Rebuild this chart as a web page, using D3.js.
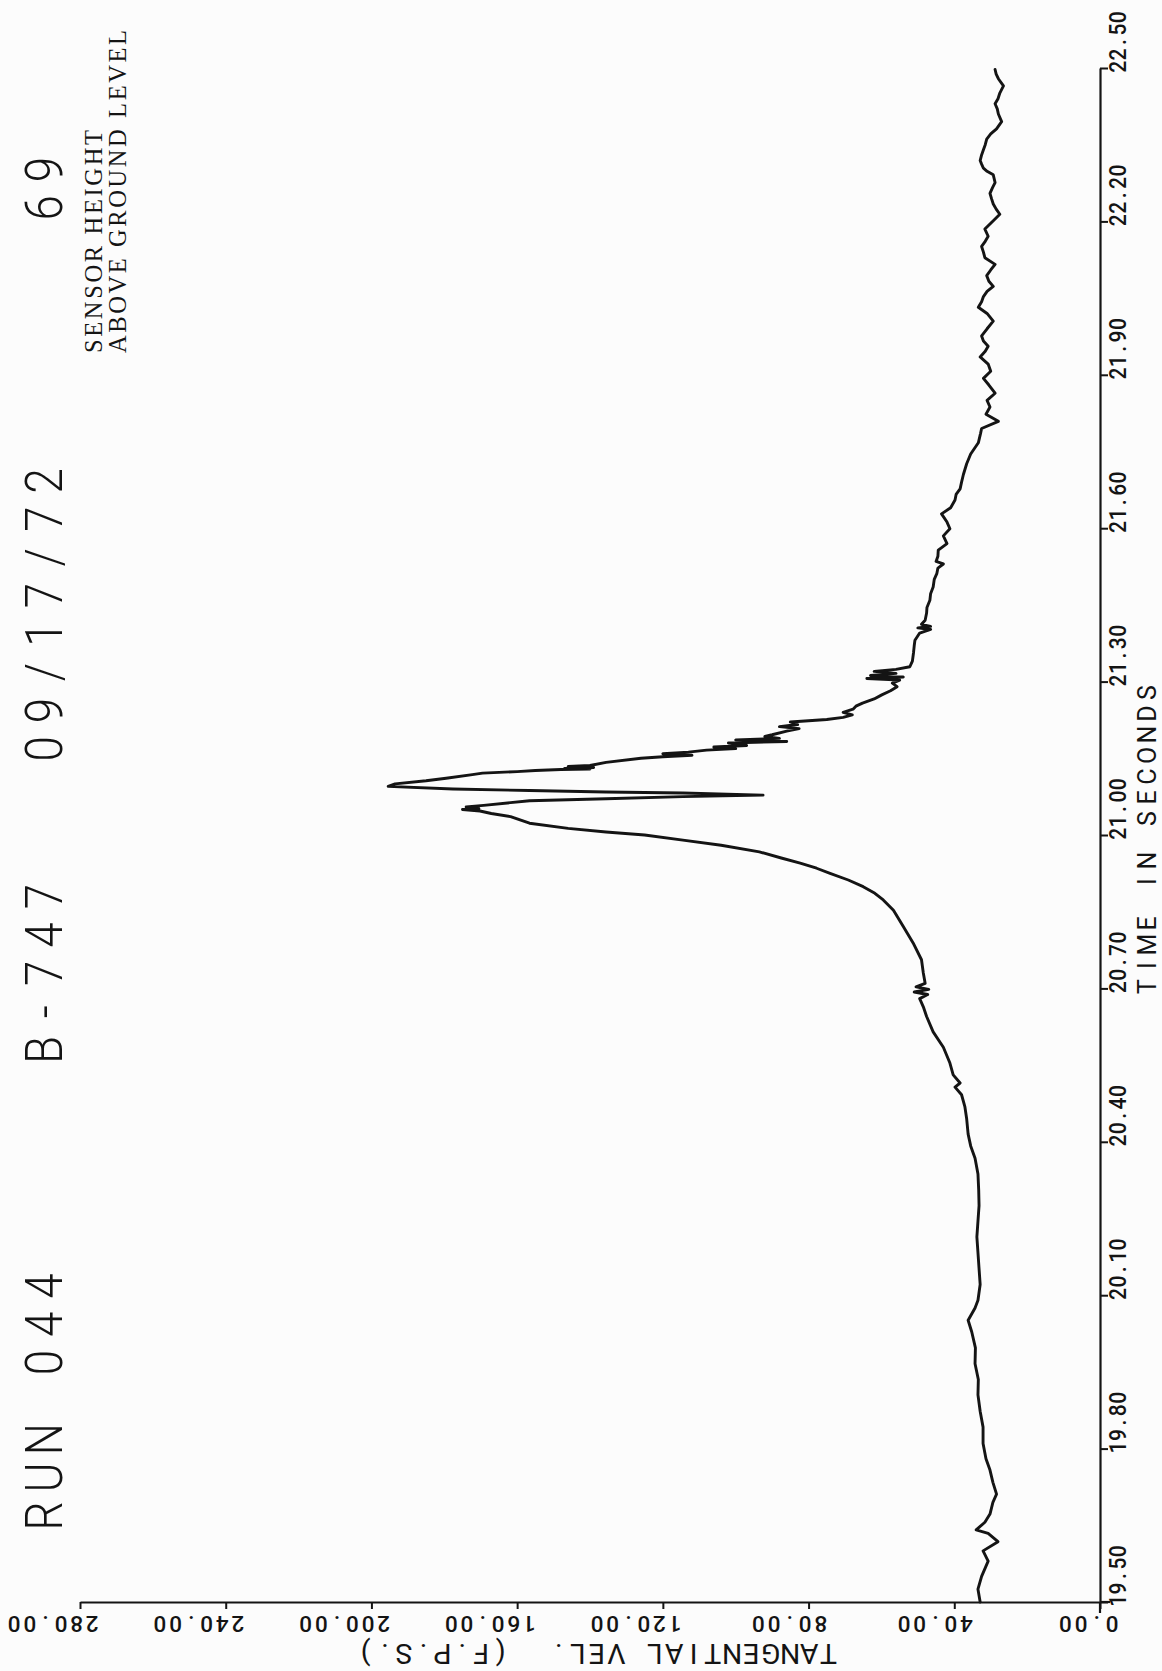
<!DOCTYPE html>
<html>
<head>
<meta charset="utf-8">
<title>RUN 044 B-747 09/17/72 - Tangential velocity, sensor 69</title>
<script src="https://cdn.jsdelivr.net/npm/d3@7"></script>
<style>
  html, body { margin: 0; padding: 0; background: #fcfcfc; }
  svg { display: block; }
</style>
</head>
<body>
<script>
// ---- data ---------------------------------------------------------------
// Time axis ticks (seconds) and their printed labels
const timeTicks = [19.5, 19.8, 20.1, 20.4, 20.7, 21.0, 21.3, 21.6, 21.9, 22.2, 22.5];
const timeTickLabels = ["19.50", "19.80", "20.10", "20.40", "20.70", "21.00", "21.30", "21.60", "21.90", "22.20", "22.50"];

// Velocity axis ticks (ft/s) and their printed labels
const velTicks = [0, 40, 80, 120, 160, 200, 240, 280];
const velTickLabels = ["0.00", "40.00", "80.00", "120.00", "160.00", "200.00", "240.00", "280.00"];

// Header block
const headerLabels = ["RUN 044", "B-747", "09/17/72", "69"];
const sensorLabels = ["SENSOR HEIGHT", "ABOVE GROUND LEVEL"];
const timeTitle = "TIME IN SECONDS";
const velTitle = "TANGENTIAL VEL.  (F.P.S.)";

// Recorded trace: [time (s), tangential velocity (ft/s)]
const velocityTrace = [
  [19.500, 32.9], [19.525, 33.5], [19.550, 32.5], [19.580, 30.7], [19.600, 32.1],
  [19.618, 28.0], [19.634, 30.7], [19.641, 34.0], [19.656, 31.6], [19.672, 30.2],
  [19.695, 29.4], [19.711, 28.4], [19.734, 29.4], [19.758, 30.2], [19.780, 31.3],
  [19.810, 32.1], [19.842, 32.1], [19.873, 32.9], [19.905, 33.5], [19.935, 33.4],
  [19.966, 34.3], [19.997, 34.2], [20.028, 35.2], [20.051, 36.2], [20.075, 34.3],
  [20.090, 33.5], [20.121, 32.9], [20.152, 33.2], [20.183, 33.5], [20.214, 33.8],
  [20.245, 33.5], [20.275, 33.2], [20.306, 33.3], [20.337, 33.5], [20.368, 34.3],
  [20.392, 35.5], [20.415, 36.2], [20.445, 36.6], [20.469, 37.1], [20.492, 38.0],
  [20.507, 39.8], [20.515, 38.4], [20.531, 40.3], [20.554, 41.2], [20.585, 43.0],
  [20.615, 45.8], [20.645, 47.6], [20.664, 48.5], [20.680, 49.5], [20.688, 47.3],
  [20.693, 51.0], [20.698, 47.0], [20.703, 50.5], [20.710, 48.0], [20.730, 48.5],
  [20.756, 49.0], [20.789, 51.3], [20.821, 54.0], [20.853, 56.7], [20.873, 59.5],
  [20.886, 61.8], [20.899, 65.0], [20.912, 69.1], [20.925, 74.1], [20.935, 77.8],
  [20.945, 82.3], [20.955, 87.5], [20.967, 93.5], [20.980, 104.0], [20.990, 114.5],
  [21.000, 125.0], [21.006, 135.6], [21.013, 146.0], [21.023, 156.6], [21.036, 161.8],
  [21.042, 167.1], [21.047, 170.2], [21.050, 175.0], [21.052, 170.5], [21.055, 174.0],
  [21.058, 169.2], [21.067, 156.6], [21.071, 135.6], [21.075, 114.5], [21.078, 92.5],
  [21.082, 114.5], [21.084, 135.6], [21.087, 156.6], [21.090, 177.6], [21.095, 195.4],
  [21.100, 193.5], [21.106, 185.0], [21.111, 179.5], [21.118, 172.3], [21.121, 169.5],
  [21.124, 160.0], [21.126, 155.0], [21.128, 148.0], [21.129, 140.0], [21.130, 147.0],
  [21.132, 139.0], [21.134, 146.0], [21.136, 140.0], [21.142, 135.6], [21.150, 126.0],
  [21.153, 120.0], [21.156, 112.0], [21.159, 120.0], [21.162, 113.0], [21.166, 108.0],
  [21.169, 100.0], [21.172, 106.0], [21.175, 97.0], [21.180, 102.0], [21.183, 86.0],
  [21.186, 100.0], [21.189, 88.0], [21.193, 92.0], [21.196, 90.0], [21.203, 86.0],
  [21.208, 82.6], [21.212, 88.0], [21.216, 83.0], [21.221, 85.0], [21.226, 75.0],
  [21.230, 70.5], [21.235, 68.0], [21.240, 70.5], [21.246, 67.8], [21.252, 67.0],
  [21.258, 65.2], [21.266, 62.0], [21.274, 59.9], [21.282, 57.5], [21.290, 55.7],
  [21.297, 57.0], [21.303, 55.0], [21.306, 64.0], [21.309, 54.0], [21.312, 63.0],
  [21.316, 56.0], [21.320, 62.0], [21.324, 56.0], [21.329, 52.2], [21.340, 51.5],
  [21.356, 51.2], [21.370, 51.0], [21.381, 50.8], [21.395, 49.5], [21.402, 46.5],
  [21.405, 50.0], [21.408, 46.5], [21.412, 49.0], [21.420, 48.0], [21.434, 47.6],
  [21.445, 47.5], [21.459, 46.7], [21.472, 46.5], [21.485, 45.8], [21.500, 45.5],
  [21.511, 44.8], [21.522, 44.5], [21.530, 43.0], [21.535, 45.0], [21.545, 44.5],
  [21.557, 44.4], [21.570, 42.0], [21.585, 43.0], [21.599, 41.2], [21.612, 42.0],
  [21.628, 43.5], [21.640, 41.0], [21.655, 39.8], [21.666, 39.5], [21.677, 38.4],
  [21.690, 38.0], [21.705, 37.5], [21.726, 36.6], [21.745, 35.5], [21.767, 33.4],
  [21.785, 32.8], [21.795, 32.5], [21.809, 27.9], [21.823, 31.3], [21.837, 30.2],
  [21.850, 31.0], [21.864, 28.8], [21.880, 30.5], [21.893, 32.0], [21.907, 30.0],
  [21.921, 30.7], [21.935, 32.9], [21.946, 31.5], [21.956, 30.7], [21.966, 32.0],
  [21.976, 32.5], [21.990, 31.0], [22.005, 29.3], [22.020, 31.0], [22.032, 33.4],
  [22.043, 32.5], [22.053, 32.0], [22.063, 31.0], [22.073, 29.3], [22.083, 30.5],
  [22.094, 31.1], [22.105, 30.0], [22.116, 28.8], [22.129, 31.6], [22.140, 32.0],
  [22.151, 32.5], [22.161, 31.5], [22.171, 30.7], [22.185, 31.6], [22.200, 29.5],
  [22.214, 27.5], [22.224, 28.5], [22.234, 29.3], [22.245, 29.8], [22.255, 30.2],
  [22.266, 29.5], [22.276, 28.8], [22.291, 29.3], [22.298, 31.0], [22.304, 32.0],
  [22.312, 32.5], [22.319, 32.9], [22.330, 32.5], [22.340, 32.0], [22.350, 31.5],
  [22.361, 31.1], [22.371, 30.0], [22.381, 28.4], [22.395, 27.0], [22.410, 27.9],
  [22.420, 28.2], [22.430, 28.8], [22.440, 28.0], [22.451, 27.5], [22.465, 26.5],
  [22.479, 27.9], [22.488, 28.5], [22.497, 28.8]
];

// ---- layout -------------------------------------------------------------
const W = 1162, H = 1671;
const ink = "#141414";
const plotterFont = "Roboto, 'Liberation Sans', sans-serif";
const serifFont = "'Liberation Serif', 'DejaVu Serif', serif";

const svg = d3.select("body").append("svg")
  .attr("width", W).attr("height", H)
  .attr("viewBox", `0 0 ${W} ${H}`);

svg.append("rect").attr("width", W).attr("height", H).attr("fill", "#fcfcfc");

// The plot is drawn turned on its side: time runs up the right edge,
// velocity runs leftwards along the bottom edge.
const y = d3.scaleLinear().domain([19.5, 22.5]).range([1602, 68]);
const x = d3.scaleLinear().domain([0, 280]).range([1100, 80]);

// Fixed-pitch "pen plotter" lettering: every character sits centred in its
// own cell of width `pitch`, starting at (px,py) and running along `angle`.
function monoText(g, str, px, py, angle, o) {
  const sx = o.sx || 1;
  const chars = Array.from(str);
  const offset = o.anchor === "middle" ? -chars.length * o.pitch / 2 : 0;
  const t = g.append("text")
    .attr("transform", `translate(${px},${py}) rotate(${angle}) scale(${sx},1)`)
    .attr("font-family", plotterFont)
    .attr("font-size", o.size)
    .attr("font-weight", o.weight || 400)
    .attr("text-anchor", "middle")
    .attr("fill", ink);
  chars.forEach((c, i) => {
    if (c === " ") return;
    t.append("tspan")
      .attr("x", (offset + (i + 0.5) * o.pitch) / sx)
      .attr("y", 0)
      .text(c);
  });
  return t;
}

// ---- axes ---------------------------------------------------------------
const timeAxis = d3.axisRight(y)
  .tickValues(timeTicks)
  .tickSize(8)
  .tickSizeOuter(0)
  .tickFormat("");

const velAxis = d3.axisBottom(x)
  .tickValues(velTicks)
  .tickSize(7)
  .tickSizeOuter(0)
  .tickFormat("");

const gTime = svg.append("g").attr("transform", `translate(${x(0)},0)`).call(timeAxis);
const gVel = svg.append("g").attr("transform", `translate(0,${y(19.5)})`).call(velAxis);

[gTime, gVel].forEach(g => {
  g.selectAll("path.domain").attr("stroke", ink).attr("stroke-width", 2.2);
  g.selectAll(".tick line").attr("stroke", ink).attr("stroke-width", 2);
});

// small cross where the two axes meet
svg.append("line")
  .attr("x1", x(0)).attr("x2", x(0))
  .attr("y1", y(19.5)).attr("y2", y(19.5) + 11)
  .attr("stroke", ink).attr("stroke-width", 2.2);
svg.append("line")
  .attr("x1", x(0)).attr("x2", x(0) + 10)
  .attr("y1", y(19.5)).attr("y2", y(19.5))
  .attr("stroke", ink).attr("stroke-width", 2.2);

// time tick labels, reading upwards from each tick
const gLabels = svg.append("g");
timeTicks.forEach((t, i) => {
  monoText(gLabels, timeTickLabels[i], 1126, y(t) + 5, -90, { size: 24.5, pitch: 12.4, sx: 0.86, weight: 500 });
});

// velocity tick labels, printed upside down
velTicks.forEach((v, i) => {
  monoText(gLabels, velTickLabels[i], x(v) + 20, 1615.5, 180, { size: 22.5, pitch: 15.6, weight: 500 });
});

// axis titles
monoText(gLabels, timeTitle, 1155.5, 997, -90, { size: 25, pitch: 21 });
monoText(gLabels, velTitle, 597, 1644, 180, { size: 28.5, pitch: 19.3, anchor: "middle" });

// ---- header block ------------------------------------------------------
const headerStarts = [1535, 1069, 768, 227];
const gHead = svg.append("g");
headerLabels.forEach((s, i) => {
  monoText(gHead, s, 62, headerStarts[i], -90, { size: 52, pitch: 38.3, sx: 0.88, weight: 300 });
});

sensorLabels.forEach((s, i) => {
  gHead.append("text")
    .attr("transform", `translate(${102 + i * 24},353) rotate(-90)`)
    .attr("font-family", serifFont)
    .attr("font-size", 24.5)
    .attr("fill", ink)
    .attr("textLength", i === 0 ? 223 : 323)
    .attr("lengthAdjust", "spacing")
    .text(s);
});

// ---- trace ---------------------------------------------------------------
const line = d3.line()
  .x(d => x(d[1]))
  .y(d => y(d[0]))
  .curve(d3.curveLinear);

svg.append("path")
  .datum(velocityTrace)
  .attr("d", line)
  .attr("fill", "none")
  .attr("stroke", ink)
  .attr("stroke-width", 2.9)
  .attr("stroke-linejoin", "round")
  .attr("stroke-linecap", "round");
</script>
</body>
</html>
